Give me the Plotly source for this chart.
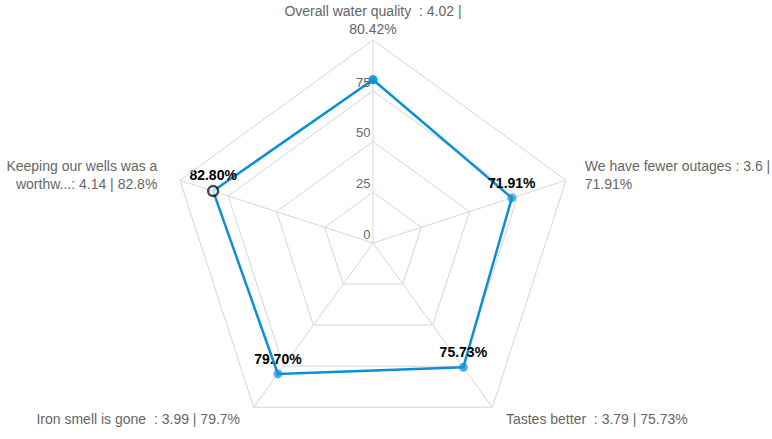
import plotly.graph_objects as go

# Survey statements, mean scores (out of 5) and percentage of the maximum
statements = [
    "Overall water quality  ",
    "We have fewer outages ",
    "Tastes better  ",
    "Iron smell is gone  ",
    "Keeping our wells was a<br>worthw...",
]
scores = ["4.02", "3.6", "3.79", "3.99", "4.14"]
percents = [80.42, 71.91, 75.73, 79.70, 82.80]
percent_labels = ["80.42%", "71.91%", "75.73%", "79.7%", "82.8%"]
radial_ticks = [0, 25, 50, 75]

# Category labels: "<statement>: <score> | <percent>"
joiners = [" |<br>", " |<br>", " | ", " | ", " | "]
categories = [
    f"{statements[i]}: {scores[i]}{joiners[i]}{percent_labels[i]}"
    for i in range(len(statements))
]

# Extra breathing room between the outer polygon and the side labels
NB = "\u00a0"
pad_left = [0, 4, 3, 0, 0]
pad_right = [0, 0, 0, 3, 5]
angular_text = []
for i, cat in enumerate(categories):
    lines = cat.split("<br>")
    lines = [NB * pad_left[i] + ln + NB * pad_right[i] for ln in lines]
    angular_text.append("<br>".join(lines))

# Radial labels sit just above their grid ring
radial_text = [f"{v}<br>{NB}" for v in radial_ticks]

# Close the polygon by repeating the first point
theta = categories + categories[:1]
r = percents + percents[:1]
# value labels on the points (the top point carries none)
point_text = [""] + [f"{p:.2f}%" for p in percents[1:]] + [""]

blue = "#0a8fd8"
marker_fill = [blue] * len(r)
marker_fill[4] = "white"
marker_edge = [blue] * len(r)
marker_edge[4] = "black"
marker_edge_w = [0] * len(r)
marker_edge_w[4] = 2.5
marker_size = [9] * len(r)
marker_size[4] = 10

fig = go.Figure(
    go.Scatterpolar(
        r=r,
        theta=theta,
        mode="lines+markers+text",
        line=dict(color=blue, width=2.5),
        marker=dict(color=marker_fill, size=marker_size,
                    line=dict(color=marker_edge, width=marker_edge_w)),
        text=point_text,
        textposition="top center",
        textfont=dict(family="Liberation Sans, Arial", size=14, color="black", weight="bold"),
        cliponaxis=False,
        showlegend=False,
    )
)

grid = "#d6d6d6"
fig.update_layout(
    width=772,
    height=446,
    margin=dict(l=0, r=26, t=40, b=0),
    paper_bgcolor="white",
    font=dict(family="Liberation Sans, Arial", size=14, color="#666666"),
    polar=dict(
        bgcolor="white",
        gridshape="linear",
        domain=dict(x=[0, 1], y=[0, 1]),
        radialaxis=dict(
            range=[0, 100],
            tickvals=radial_ticks,
            ticktext=radial_text,
            showline=False,
            gridcolor=grid,
            gridwidth=1,
            ticks="",
            angle=90,
            tickangle=90,
            side="counterclockwise",
            tickfont=dict(size=13, color="#666666"),
        ),
        angularaxis=dict(
            direction="clockwise",
            rotation=90,
            tickvals=categories,
            ticktext=angular_text,
            gridcolor=grid,
            linecolor=grid,
            linewidth=1,
            ticks="",
            tickfont=dict(size=14, color="#666666"),
        ),
    ),
)

# keep the page free of scrollbars
fig.write_html("out.html", post_script="document.body.style.overflow='hidden';")
